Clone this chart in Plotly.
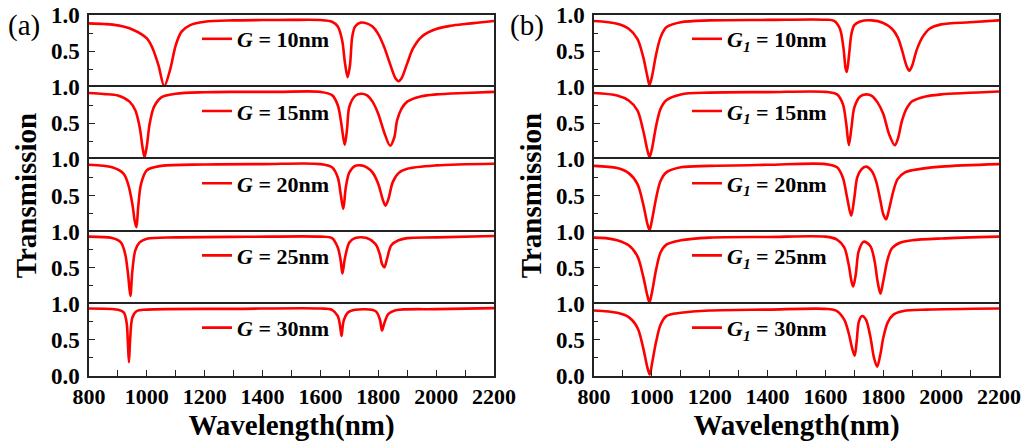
import plotly.graph_objects as go

# ---------------- data ----------------
wl_a10 = [800, 850, 900, 950, 1000, 1020, 1040, 1060, 1080, 1100, 1120, 1150, 1200, 1300, 1400, 1500, 1600, 1640, 1660, 1675, 1685, 1694, 1702, 1710, 1720, 1740, 1760, 1780, 1800, 1820, 1840, 1860, 1870, 1880, 1900, 1920, 1950, 2000, 2050, 2100, 2150, 2200]
t_a10 = [0.884, 0.875, 0.856, 0.80, 0.676, 0.537, 0.306, 0.015, 0.236, 0.583, 0.77, 0.86, 0.907, 0.925, 0.93, 0.932, 0.93, 0.907, 0.84, 0.65, 0.33, 0.14, 0.30, 0.70, 0.84, 0.895, 0.884, 0.84, 0.736, 0.56, 0.33, 0.12, 0.083, 0.12, 0.33, 0.537, 0.70, 0.806, 0.85, 0.875, 0.895, 0.917]

wl_a15 = [800, 850, 900, 940, 960, 975, 985, 992, 1000, 1010, 1025, 1050, 1100, 1200, 1300, 1450, 1600, 1640, 1660, 1672, 1684, 1692, 1700, 1720, 1740, 1760, 1780, 1800, 1820, 1841, 1855, 1865, 1880, 1900, 1950, 2000, 2100, 2200]
t_a15 = [0.92, 0.905, 0.884, 0.80, 0.68, 0.45, 0.17, 0.03, 0.19, 0.50, 0.73, 0.86, 0.91, 0.93, 0.935, 0.935, 0.935, 0.89, 0.75, 0.50, 0.20, 0.42, 0.73, 0.88, 0.91, 0.89, 0.80, 0.63, 0.38, 0.19, 0.30, 0.54, 0.70, 0.80, 0.875, 0.90, 0.92, 0.935]

wl_a20 = [800, 880, 920, 935, 950, 958, 964, 970, 980, 1000, 1050, 1200, 1400, 1600, 1640, 1660, 1670, 1679, 1688, 1700, 1720, 1740, 1760, 1780, 1800, 1815, 1825, 1835, 1850, 1870, 1900, 2000, 2200]
t_a20 = [0.926, 0.89, 0.80, 0.66, 0.38, 0.15, 0.06, 0.34, 0.66, 0.85, 0.91, 0.93, 0.935, 0.935, 0.89, 0.75, 0.52, 0.315, 0.62, 0.82, 0.91, 0.917, 0.89, 0.82, 0.66, 0.45, 0.36, 0.45, 0.685, 0.81, 0.87, 0.917, 0.94]

wl_a25 = [800, 880, 910, 925, 935, 943, 950, 960, 975, 1000, 1100, 1350, 1600, 1640, 1660, 1670, 1676, 1685, 1700, 1720, 1760, 1790, 1805, 1813, 1821, 1830, 1845, 1870, 1900, 2000, 2200]
t_a25 = [0.93, 0.91, 0.85, 0.69, 0.41, 0.11, 0.46, 0.74, 0.85, 0.90, 0.92, 0.928, 0.93, 0.91, 0.78, 0.60, 0.42, 0.64, 0.85, 0.91, 0.91, 0.83, 0.69, 0.55, 0.505, 0.62, 0.81, 0.88, 0.91, 0.92, 0.94]

wl_a30 = [800, 900, 920, 930, 934, 938, 942, 950, 965, 1000, 1300, 1600, 1640, 1660, 1668, 1673, 1680, 1695, 1720, 1790, 1805, 1813, 1820, 1835, 1860, 2000, 2200]
t_a30 = [0.935, 0.917, 0.88, 0.74, 0.50, 0.19, 0.49, 0.81, 0.90, 0.92, 0.93, 0.935, 0.917, 0.83, 0.69, 0.555, 0.76, 0.88, 0.917, 0.90, 0.79, 0.63, 0.72, 0.86, 0.91, 0.926, 0.94]

wl_b10 = [800, 880, 920, 950, 970, 985, 992, 1000, 1015, 1030, 1050, 1100, 1200, 1400, 1600, 1630, 1650, 1662, 1670, 1674, 1682, 1690, 1700, 1720, 1760, 1800, 1830, 1850, 1865, 1880, 1890, 1900, 1915, 1935, 1960, 2000, 2100, 2200]
t_b10 = [0.917, 0.88, 0.81, 0.67, 0.42, 0.14, 0.03, 0.14, 0.46, 0.69, 0.83, 0.90, 0.925, 0.932, 0.935, 0.917, 0.81, 0.555, 0.255, 0.21, 0.46, 0.74, 0.86, 0.91, 0.925, 0.89, 0.81, 0.69, 0.51, 0.30, 0.23, 0.30, 0.51, 0.69, 0.81, 0.87, 0.90, 0.925]

wl_b15 = [800, 880, 920, 950, 970, 985, 992, 1000, 1015, 1030, 1050, 1100, 1200, 1400, 1600, 1640, 1660, 1672, 1681, 1690, 1700, 1720, 1740, 1760, 1780, 1800, 1820, 1840, 1850, 1865, 1880, 1900, 1950, 2000, 2200]
t_b15 = [0.92, 0.885, 0.815, 0.68, 0.40, 0.12, 0.03, 0.14, 0.47, 0.70, 0.82, 0.90, 0.925, 0.932, 0.935, 0.90, 0.77, 0.49, 0.20, 0.44, 0.72, 0.87, 0.90, 0.88, 0.79, 0.63, 0.35, 0.195, 0.28, 0.54, 0.70, 0.805, 0.875, 0.90, 0.94]

wl_b20 = [800, 880, 920, 950, 970, 985, 992, 1000, 1015, 1030, 1050, 1100, 1200, 1400, 1600, 1640, 1660, 1675, 1689, 1700, 1710, 1725, 1740, 1760, 1775, 1790, 1800, 1810, 1820, 1835, 1850, 1875, 1900, 2000, 2200]
t_b20 = [0.91, 0.88, 0.81, 0.66, 0.38, 0.10, 0.02, 0.15, 0.47, 0.70, 0.82, 0.89, 0.91, 0.925, 0.935, 0.89, 0.75, 0.47, 0.22, 0.47, 0.75, 0.865, 0.90, 0.84, 0.70, 0.43, 0.24, 0.17, 0.31, 0.565, 0.73, 0.82, 0.85, 0.90, 0.935]

wl_b25 = [800, 840, 880, 920, 950, 970, 985, 992, 1000, 1015, 1030, 1050, 1100, 1200, 1400, 1600, 1640, 1665, 1680, 1690, 1696, 1705, 1715, 1732, 1755, 1770, 1780, 1790, 1800, 1815, 1830, 1860, 1900, 2000, 2200]
t_b25 = [0.917, 0.91, 0.88, 0.81, 0.66, 0.38, 0.106, 0.02, 0.15, 0.48, 0.71, 0.82, 0.88, 0.917, 0.925, 0.93, 0.89, 0.78, 0.55, 0.315, 0.24, 0.41, 0.73, 0.86, 0.80, 0.59, 0.315, 0.14, 0.315, 0.615, 0.77, 0.85, 0.88, 0.905, 0.93]

wl_b30 = [800, 880, 920, 950, 970, 985, 993, 1000, 1015, 1030, 1050, 1100, 1200, 1400, 1600, 1640, 1665, 1680, 1692, 1701, 1708, 1716, 1727, 1740, 1755, 1768, 1779, 1790, 1800, 1815, 1835, 1870, 1950, 2200]
t_b30 = [0.907, 0.875, 0.815, 0.67, 0.39, 0.11, 0.02, 0.16, 0.48, 0.71, 0.83, 0.875, 0.907, 0.92, 0.93, 0.90, 0.78, 0.60, 0.39, 0.28, 0.48, 0.76, 0.83, 0.78, 0.55, 0.25, 0.13, 0.30, 0.53, 0.74, 0.85, 0.90, 0.92, 0.935]

gaps = ["10", "15", "20", "25", "30"]
panel_a = [(wl_a10, t_a10), (wl_a15, t_a15), (wl_a20, t_a20), (wl_a25, t_a25), (wl_a30, t_a30)]
panel_b = [(wl_b10, t_b10), (wl_b15, t_b15), (wl_b20, t_b20), (wl_b25, t_b25), (wl_b30, t_b30)]

x_tickvals = [800, 1000, 1200, 1400, 1600, 1800, 2000, 2200]
x_ticktext = ["800", "1000", "1200", "1400", "1600", "1800", "2000", "2200"]

# ---------------- layout geometry (pixels) ----------------
W, H = 1026, 442
FONT = "Liberation Serif"
panel_x = [(89, 494), (594, 999)]
row_top0, row_h = 15, 72.2
frame = "#222222"

fig = go.Figure()
layout = dict(
    width=W, height=H, margin=dict(l=0, r=0, t=0, b=0, autoexpand=False),
    paper_bgcolor="white", plot_bgcolor="white",
    font=dict(family=FONT, color="black"),
    annotations=[], showlegend=True,
)

def fx(px):
    return px / W

def fy(py):
    return 1 - py / H

n = 0
for p, panel in enumerate([panel_a, panel_b]):
    x0, x1 = panel_x[p]
    for r, (wl, t) in enumerate(panel):
        n += 1
        sfx = "" if n == 1 else str(n)
        top = row_top0 + r * row_h
        bot = top + row_h
        bottom_row = (r == 4)
        legname = "legend" + sfx
        if p == 0:
            label = "<b><i>G</i> = %snm</b>" % gaps[r]
        else:
            label = "<b><i>G<sub>1</sub></i> = %snm</b>" % gaps[r]
        fig.add_trace(go.Scatter(
            x=wl, y=t, mode="lines", name=label,
            line=dict(color="#ff0000", width=2.6, shape="spline", smoothing=0.9),
            xaxis="x" + sfx, yaxis="y" + sfx, legend=legname,
        ))
        xa = dict(
            domain=[fx(x0), fx(x1)], range=[800, 2200], anchor="y" + sfx,
            showgrid=False, zeroline=False, showline=True, linecolor=frame,
            linewidth=1.5, fixedrange=True, automargin=False,
        )
        if bottom_row:
            xa.update(
                mirror=True, side="bottom",
                ticks="inside", ticklen=6, tickwidth=1.3, tickcolor=frame,
                tickvals=x_tickvals, ticktext=x_ticktext,
                tickfont=dict(size=22, family=FONT, weight="bold"),
                minor=dict(ticks="inside", ticklen=6, tickwidth=1.3, tickcolor=frame, dtick=100, tick0=800),
                title=dict(text="<b>Wavelength(nm)</b>", font=dict(size=29, family=FONT), standoff=0),
            )
        else:
            xa.update(mirror=False, side="top", showticklabels=False, ticks="")
        ya = dict(
            domain=[fy(bot), fy(top)], range=[0, 1.0], anchor="x" + sfx,
            showgrid=False, zeroline=False, showline=True, linecolor=frame,
            linewidth=1.5, mirror=True, fixedrange=True, automargin=False,
            ticks="inside", ticklen=6, tickwidth=1.3, tickcolor=frame,
            tickvals=[0.0, 0.5, 1.0] if bottom_row else [0.5, 1.0],
            ticktext=["0.0", "0.5", "1.0"] if bottom_row else ["0.5", "1.0"],
            tickfont=dict(size=23, family=FONT, weight="bold"),
            ticklabelstandoff=3,
            minor=dict(ticks="inside", ticklen=4, tickwidth=1.3, tickcolor=frame, tickvals=[0.25, 0.75]),
        )
        if r == 2:
            ya["title"] = dict(text="<b>Transmission</b>", font=dict(size=29, family=FONT), standoff=6)
        layout["xaxis" + sfx] = xa
        layout["yaxis" + sfx] = ya
        leg_x = 197 if p == 0 else 687
        layout[legname] = dict(
            x=fx(leg_x), y=fy(top + 24), xanchor="left", yanchor="middle",
            bgcolor="rgba(0,0,0,0)", borderwidth=0,
            font=dict(size=22, family=FONT, color="black"),
            itemwidth=30, tracegroupgap=0,
        )

layout["annotations"] = [
    dict(text="(a)", x=fx(24), y=fy(25), xref="paper", yref="paper", showarrow=False,
         font=dict(size=29, family=FONT, color="black"), xanchor="center", yanchor="middle"),
    dict(text="(b)", x=fx(527), y=fy(25), xref="paper", yref="paper", showarrow=False,
         font=dict(size=29, family=FONT, color="black"), xanchor="center", yanchor="middle"),
]
fig.update_layout(**layout)
fig.write_html("out.html")
